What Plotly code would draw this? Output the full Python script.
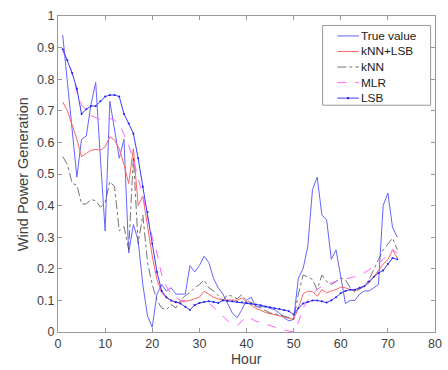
import plotly.graph_objects as go

hours = list(range(1, 73))

true_value = [0.94, 0.79, 0.64, 0.49, 0.61, 0.62, 0.72, 0.79, 0.55, 0.32,
              0.73, 0.64, 0.55, 0.61, 0.25, 0.34, 0.29, 0.15, 0.05, 0.015,
              0.12, 0.15, 0.13, 0.14, 0.12, 0.12, 0.12, 0.21, 0.19, 0.21,
              0.24, 0.22, 0.17, 0.14, 0.12, 0.09, 0.06, 0.045, 0.07, 0.10,
              0.11, 0.08, 0.08, 0.08, 0.075, 0.07, 0.06, 0.045, 0.035, 0.04,
              0.17, 0.20, 0.27, 0.45, 0.49, 0.37, 0.355, 0.23, 0.26, 0.17,
              0.09, 0.10, 0.10, 0.12, 0.13, 0.13, 0.14, 0.15, 0.40, 0.44,
              0.33, 0.30]

knn_lsb = [0.728, 0.70, 0.655, 0.61, 0.555, 0.565, 0.575, 0.578, 0.575, 0.586,
           0.618, 0.607, 0.58, 0.53, 0.47, 0.58, 0.40, 0.43, 0.33, 0.24,
           0.166, 0.124, 0.108, 0.10, 0.092, 0.095, 0.097, 0.10, 0.105, 0.11,
           0.129, 0.12, 0.11, 0.105, 0.10, 0.102, 0.10, 0.10, 0.108, 0.095,
           0.085, 0.075, 0.068, 0.062, 0.058, 0.055, 0.052, 0.048, 0.044, 0.04,
           0.075, 0.12, 0.129, 0.128, 0.113, 0.134, 0.124, 0.13, 0.134, 0.142,
           0.14, 0.134, 0.129, 0.14, 0.145, 0.155, 0.175, 0.197, 0.215, 0.229,
           0.26, 0.234]

knn = [0.555, 0.53, 0.47, 0.465, 0.405, 0.405, 0.42, 0.415, 0.395, 0.41,
       0.476, 0.46, 0.32, 0.334, 0.26, 0.555, 0.28, 0.37, 0.22, 0.15,
       0.10, 0.076, 0.07, 0.087, 0.076, 0.10, 0.115, 0.125, 0.14, 0.15,
       0.165, 0.14, 0.13, 0.115, 0.10, 0.118, 0.113, 0.105, 0.118, 0.10,
       0.092, 0.085, 0.076, 0.068, 0.06, 0.057, 0.055, 0.05, 0.045, 0.04,
       0.12, 0.18, 0.175, 0.166, 0.134, 0.18, 0.16, 0.15, 0.16, 0.171,
       0.165, 0.14, 0.126, 0.135, 0.145, 0.166, 0.20, 0.229, 0.26, 0.28,
       0.297, 0.26]

mlr = [0.89, 0.86, 0.82, 0.76, 0.72, 0.70, 0.685, 0.678, 0.672, 0.673,
       0.676, 0.67, 0.66, 0.625, 0.59, 0.545, 0.49, 0.43, 0.365, 0.30,
       0.25, 0.18, 0.145, 0.12, 0.11, 0.10, 0.10, 0.095, 0.085, 0.09,
       0.097, 0.092, 0.08, 0.065, 0.05, 0.035, 0.025, 0.02, 0.034, 0.05,
       0.042, 0.034, 0.03, 0.025, 0.02, 0.015, 0.01, 0.006, 0.003, 0.0,
       0.03, 0.075, 0.10, 0.12, 0.135, 0.145, 0.15, 0.155, 0.16, 0.166,
       0.168, 0.171, 0.175, 0.18, 0.187, 0.197, 0.207, 0.218, 0.23, 0.245,
       0.26, 0.25]

lsb = [0.895, 0.86, 0.82, 0.77, 0.69, 0.705, 0.715, 0.715, 0.73, 0.745,
       0.75, 0.75, 0.745, 0.69, 0.66, 0.628, 0.55, 0.46, 0.38, 0.28,
       0.19, 0.13, 0.11, 0.10, 0.095, 0.09, 0.08, 0.07, 0.085, 0.092,
       0.095, 0.097, 0.095, 0.092, 0.10, 0.098, 0.097, 0.095, 0.094, 0.092,
       0.09, 0.087, 0.085, 0.081, 0.078, 0.075, 0.073, 0.07, 0.066, 0.055,
       0.075, 0.09, 0.095, 0.10, 0.10, 0.097, 0.093, 0.10, 0.11, 0.123,
       0.13, 0.134, 0.134, 0.14, 0.145, 0.16, 0.175, 0.187, 0.195, 0.215,
       0.234, 0.23]

series_names = ["True value", "kNN+LSB", "kNN", "MLR", "LSB"]

x_ticks = [0, 10, 20, 30, 40, 50, 60, 70, 80]
y_ticks = [0, 0.1, 0.2, 0.3, 0.4, 0.5, 0.6, 0.7, 0.8, 0.9, 1]

FONT = "Liberation Sans, Arial, sans-serif"
W, H = 448, 370
# plot area in window pixels: x 57.5..441.5, y 15.5..332.5
ML, MT = 57.5, 15.5
MR = W - 441.5
MB = H - 332.5
PW, PH = W - ML - MR, H - MT - MB


def px_to_paper(px, py):
    """window pixel -> paper coordinates"""
    return (px - ML) / PW, (H - MB - py) / PH


styles = [
    dict(mode="lines", line=dict(color="#6464ff", width=1)),
    dict(mode="lines", line=dict(color="#ff6464", width=1)),
    dict(mode="lines", line=dict(color="#505050", width=0.8, dash="dashdot")),
    dict(mode="lines", line=dict(color="#ff60ff", width=1, dash="dash")),
    dict(mode="lines+markers", line=dict(color="#3c3cff", width=1),
         marker=dict(size=2, color="#1e1ee6")),
]

fig = go.Figure()
for name, ys, st in zip(series_names, [true_value, knn_lsb, knn, mlr, lsb], styles):
    fig.add_trace(go.Scatter(x=hours, y=ys, name=name, showlegend=False, **st))

# custom compact legend (box, line samples, labels)
shapes = []
annotations = []
bx0, by0 = px_to_paper(327, 25)
bx1, by1 = px_to_paper(437, 105)
shapes.append(dict(type="rect", xref="paper", yref="paper", x0=bx0, x1=bx1, y0=by1, y1=by0,
                   line=dict(color="#999999", width=1), fillcolor="white", layer="above"))
for i, (name, st) in enumerate(zip(series_names, styles)):
    py = 35.5 + i * 15.6
    lx0, ly = px_to_paper(342, py)
    lx1, _ = px_to_paper(364, py)
    shapes.append(dict(type="line", xref="paper", yref="paper", x0=lx0, x1=lx1, y0=ly, y1=ly,
                       line=dict(color=st["line"]["color"], width=st["line"]["width"],
                                 dash=st["line"].get("dash", "solid")), layer="above"))
    if "markers" in st["mode"]:
        mx, _ = px_to_paper(353, py)
        shapes.append(dict(type="circle", xref="paper", yref="paper",
                           x0=mx - 1.2 / PW, x1=mx + 1.2 / PW, y0=ly - 1.2 / PH, y1=ly + 1.2 / PH,
                           fillcolor=st["marker"]["color"], line=dict(width=0), layer="above"))
    tx, _ = px_to_paper(364, py)
    annotations.append(dict(text=name, xref="paper", yref="paper", x=tx, y=ly,
                            xanchor="left", yanchor="middle", showarrow=False,
                            font=dict(family=FONT, size=11.8, color="#202020")))

# axis titles
hx, hy = px_to_paper(249.5, 360)
annotations.append(dict(text="Hour", xref="paper", yref="paper", x=hx, y=hy,
                        xanchor="center", yanchor="middle", showarrow=False,
                        font=dict(family=FONT, size=14, color="#404040")))
vx, vy = px_to_paper(22, 174)
annotations.append(dict(text="Wind Power Generation", xref="paper", yref="paper", x=vx, y=vy,
                        xanchor="center", yanchor="middle", showarrow=False, textangle=-90,
                        font=dict(family=FONT, size=14.5, color="#404040")))

axis_common = dict(showline=True, linecolor="#999999", linewidth=1, mirror="ticks",
                   ticks="inside", ticklen=4, tickcolor="#999999", showgrid=False,
                   zeroline=False, tickfont=dict(family=FONT, size=12.5, color="#404040"))

fig.update_layout(
    width=W, height=H,
    margin=dict(l=ML, r=MR, t=MT, b=MB),
    paper_bgcolor="white", plot_bgcolor="white",
    xaxis=dict(range=[0, 80], tickvals=x_ticks, **axis_common),
    yaxis=dict(range=[0, 1], tickvals=y_ticks, ticktext=[str(v) for v in y_ticks], **axis_common),
    shapes=shapes,
    annotations=annotations,
    showlegend=False,
    hovermode=False,
)

fig.write_html("out.html",
               config={"displayModeBar": False},
               post_script="document.body.style.margin='0px';"
                           "document.documentElement.style.overflow='hidden';")
